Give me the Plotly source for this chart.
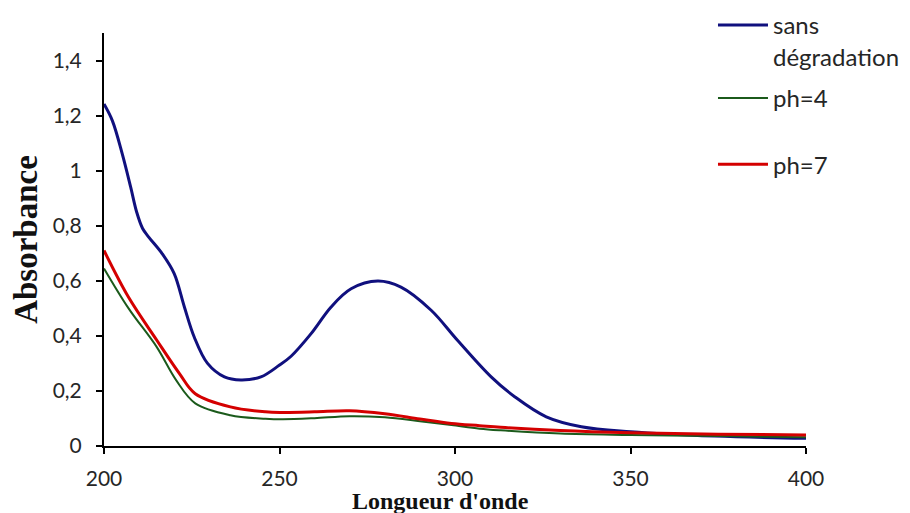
import plotly.graph_objects as go

# Blue: sans dégradation
x_sans = [200, 202.4, 205.2, 207.6, 209.3, 211, 212.8, 216.6, 220, 222.9, 225.7, 229.5, 234.3, 239, 244.7, 249.9, 253.3, 259, 264.7, 270.4, 278, 284.6, 293.2, 300.7, 310.3, 317, 326, 336, 350, 374, 400]
y_sans = [1.242, 1.181, 1.061, 0.94, 0.85, 0.79, 0.758, 0.698, 0.626, 0.505, 0.396, 0.30, 0.251, 0.240, 0.251, 0.293, 0.326, 0.408, 0.505, 0.571, 0.599, 0.577, 0.493, 0.384, 0.251, 0.179, 0.106, 0.070, 0.052, 0.036, 0.028]

# Green: ph=4
x_ph4 = [200, 207, 215, 220.5, 226, 236, 246, 251, 260, 270, 280, 290, 299, 307, 313, 330, 350, 375, 400]
y_ph4 = [0.645, 0.50, 0.36, 0.24, 0.155, 0.112, 0.099, 0.097, 0.101, 0.108, 0.104, 0.090, 0.076, 0.063, 0.057, 0.045, 0.040, 0.036, 0.032]

# Red: ph=7
x_ph7 = [200, 207, 215, 221.5, 226, 236, 246, 251, 260, 270, 280, 290, 299, 307, 313, 330, 350, 375, 400]
y_ph7 = [0.71, 0.54, 0.385, 0.263, 0.19, 0.142, 0.124, 0.122, 0.124, 0.128, 0.117, 0.098, 0.082, 0.074, 0.068, 0.056, 0.048, 0.043, 0.040]

names = ["sans<br>dégradation", "ph=4", "ph=7"]
x_ticks = [200, 250, 300, 350, 400]
y_ticks = [0, 0.2, 0.4, 0.6, 0.8, 1, 1.2, 1.4]
x_title = "<b>Longueur d'onde</b>"
y_title = "<b>Absorbance</b>"

fig = go.Figure()
fig.add_trace(go.Scatter(x=x_sans, y=y_sans, name=names[0], mode="lines",
                         line=dict(color="#10107e", width=3, shape="spline", smoothing=1.0),
                         legend="legend"))
fig.add_trace(go.Scatter(x=x_ph4, y=y_ph4, name=names[1], mode="lines",
                         line=dict(color="#1b5a1b", width=2, shape="spline", smoothing=1.0),
                         legend="legend2"))
fig.add_trace(go.Scatter(x=x_ph7, y=y_ph7, name=names[2], mode="lines",
                         line=dict(color="#d40000", width=3, shape="spline", smoothing=1.0),
                         legend="legend3"))

tick_font = dict(family="Lato, Open Sans, sans-serif", size=21, color="#262626")
legend_font = dict(family="Lato, Open Sans, sans-serif", size=24, color="#262626")
common = dict(xanchor="left", yanchor="top", font=legend_font, bgcolor="rgba(0,0,0,0)",
              itemwidth=50, valign="top", tracegroupgap=0)

fig.update_layout(
    width=910, height=513,
    margin=dict(l=96, r=112, t=25, b=75, autoexpand=False),
    paper_bgcolor="white", plot_bgcolor="white",
    separators=", ",
    showlegend=True,
    legend=dict(x=0.8675, y=1.073, **common),
    legend2=dict(x=0.8675, y=0.896, **common),
    legend3=dict(x=0.8675, y=0.736, **common),
    xaxis=dict(range=[200, 400], tickvals=x_ticks, showgrid=False, zeroline=False,
               showline=True, linecolor="black", linewidth=2,
               ticks="outside", ticklen=6, tickwidth=1.5, tickcolor="black",
               ticklabelstandoff=7,
               tickfont=tick_font),
    yaxis=dict(range=[0, 1.5], tickvals=y_ticks, showgrid=False, zeroline=False,
               showline=True, linecolor="black", linewidth=2,
               ticks="outside", ticklen=6, tickwidth=1.5, tickcolor="black",
               ticklabelstandoff=10,
               tickfont=tick_font,
               title=dict(text=y_title, standoff=6,
                          font=dict(family="Liberation Serif, Times New Roman, serif", size=33, color="#111"))),
    annotations=[dict(text=x_title, xref="paper", yref="paper", x=0.479, y=-0.097,
                      xanchor="center", yanchor="top", showarrow=False,
                      font=dict(family="Liberation Serif, Times New Roman, serif", size=24, color="#111"))],
)

fig.write_html("out.html")
